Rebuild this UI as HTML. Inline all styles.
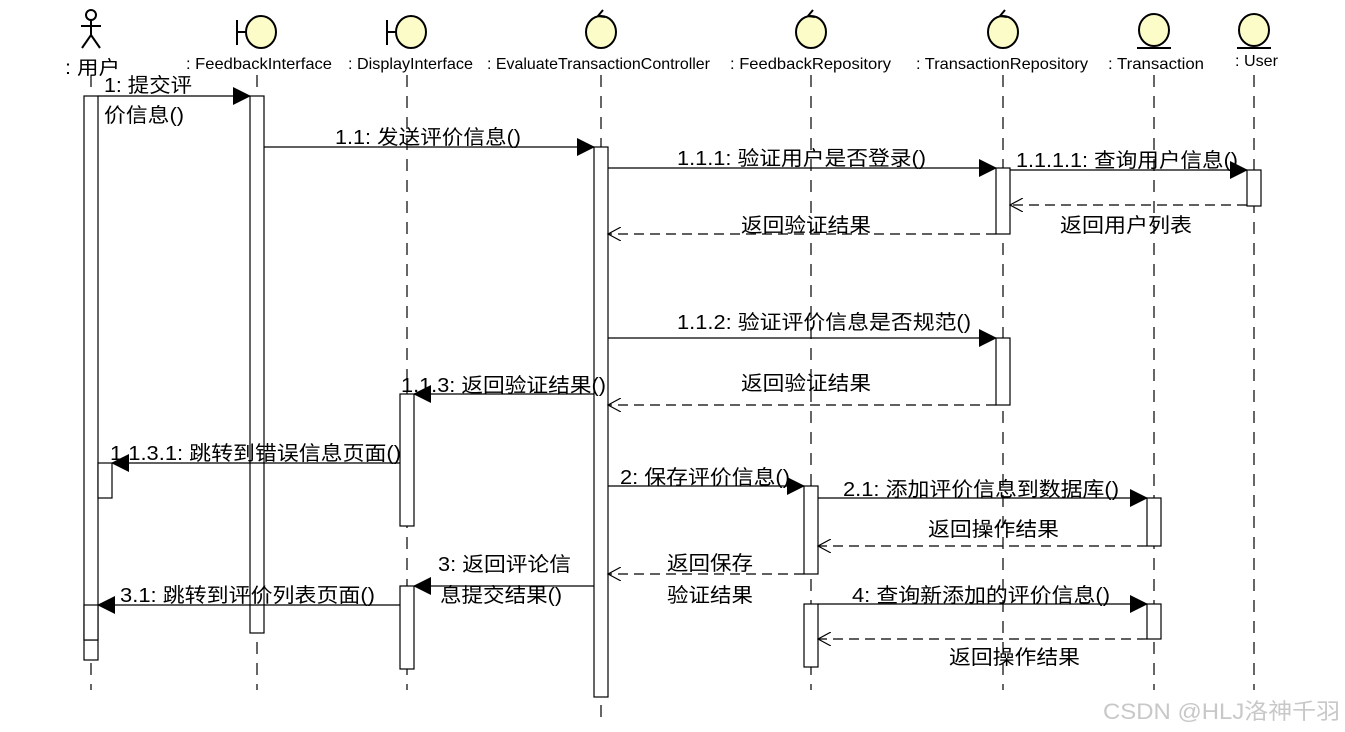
<!DOCTYPE html>
<html><head><meta charset="utf-8"><style>
html,body{margin:0;padding:0;background:#fff;}
svg{display:block;}
text{font-family:"Liberation Sans","Noto Sans CJK SC",sans-serif;fill:#000;}
.h{font-size:16px;}
.m{font-size:20px;}
</style></head><body>
<svg width="1345" height="732" viewBox="0 0 1345 732" xmlns="http://www.w3.org/2000/svg">
<defs>
<marker id="a" markerWidth="18" markerHeight="18" refX="17" refY="9" orient="auto" markerUnits="userSpaceOnUse"><path d="M0,0 L18,9 L0,18 z" fill="#000"/></marker>
<marker id="o" markerWidth="14" markerHeight="14" refX="13" refY="7" orient="auto" markerUnits="userSpaceOnUse"><path d="M0,0 L13,7 L0,14" fill="none" stroke="#000" stroke-width="1.2"/></marker>
</defs>
<g stroke="#000" stroke-width="1.2" fill="none" stroke-dasharray="12,9">
<line x1="91" y1="75" x2="91" y2="690"/>
<line x1="257" y1="75" x2="257" y2="690"/>
<line x1="407" y1="75" x2="407" y2="690"/>
<line x1="601" y1="75" x2="601" y2="717"/>
<line x1="811" y1="75" x2="811" y2="690"/>
<line x1="1003" y1="75" x2="1003" y2="690"/>
<line x1="1154" y1="75" x2="1154" y2="690"/>
<line x1="1254" y1="75" x2="1254" y2="690"/>
</g>
<g stroke="#000" stroke-width="2" fill="#fcfcc8">
<circle cx="91" cy="15" r="5" fill="none"/>
<line x1="91" y1="20" x2="91" y2="35"/><line x1="81" y1="26" x2="101" y2="26"/>
<line x1="91" y1="35" x2="82" y2="48"/><line x1="91" y1="35" x2="100" y2="48"/>
<line x1="237" y1="20" x2="237" y2="45"/><line x1="237" y1="32" x2="246" y2="32"/>
<ellipse cx="261" cy="32" rx="15" ry="16"/>
<line x1="387" y1="20" x2="387" y2="45"/><line x1="387" y1="32" x2="396" y2="32"/>
<ellipse cx="411" cy="32" rx="15" ry="16"/>
<ellipse cx="601" cy="32" rx="15" ry="16"/>
<ellipse cx="811" cy="32" rx="15" ry="16"/>
<ellipse cx="1003" cy="32" rx="15" ry="16"/>
<ellipse cx="1154" cy="30" rx="15" ry="16"/>
<line x1="1137" y1="48" x2="1171" y2="48"/>
<ellipse cx="1254" cy="30" rx="15" ry="16"/>
<line x1="1237" y1="48" x2="1271" y2="48"/>
<path d="M603,10 L598,16 L605,17" fill="none"/>
<path d="M813,10 L808,16 L815,17" fill="none"/>
<path d="M1005,10 L1000,16 L1007,17" fill="none"/>
</g>
<g lengthAdjust="spacingAndGlyphs">
<text class="h" x="65" y="74" style="font-size:19px" textLength="55" lengthAdjust="spacingAndGlyphs">: 用户</text>
<text class="h" x="186" y="69" textLength="146" lengthAdjust="spacingAndGlyphs">: FeedbackInterface</text>
<text class="h" x="348" y="69" textLength="125" lengthAdjust="spacingAndGlyphs">: DisplayInterface</text>
<text class="h" x="487" y="69" textLength="223" lengthAdjust="spacingAndGlyphs">: EvaluateTransactionController</text>
<text class="h" x="730" y="69" textLength="161" lengthAdjust="spacingAndGlyphs">: FeedbackRepository</text>
<text class="h" x="916" y="69" textLength="172" lengthAdjust="spacingAndGlyphs">: TransactionRepository</text>
<text class="h" x="1108" y="69" textLength="96" lengthAdjust="spacingAndGlyphs">: Transaction</text>
<text class="h" x="1235" y="66" textLength="43" lengthAdjust="spacingAndGlyphs">: User</text>
</g>
<g stroke="#000" stroke-width="1.2" fill="#fff">
<rect x="84" y="96" width="14" height="564"/>
<line x1="84" y1="640" x2="98" y2="640"/>
<rect x="98" y="463" width="14" height="35"/>
<rect x="84" y="605" width="14" height="35"/>
<rect x="250" y="96" width="14" height="537"/>
<rect x="400" y="394" width="14" height="132"/>
<rect x="400" y="586" width="14" height="83"/>
<rect x="594" y="147" width="14" height="550"/>
<rect x="804" y="486" width="14" height="88"/>
<rect x="804" y="604" width="14" height="63"/>
<rect x="996" y="168" width="14" height="66"/>
<rect x="996" y="338" width="14" height="67"/>
<rect x="1147" y="498" width="14" height="48"/>
<rect x="1147" y="604" width="14" height="35"/>
<rect x="1247" y="170" width="14" height="36"/>
</g>
<g stroke="#000" stroke-width="1.2" fill="none">
<line x1="98" y1="96" x2="250" y2="96" marker-end="url(#a)"/>
<line x1="264" y1="147" x2="594" y2="147" marker-end="url(#a)"/>
<line x1="608" y1="168" x2="996" y2="168" marker-end="url(#a)"/>
<line x1="1010" y1="170" x2="1247" y2="170" marker-end="url(#a)"/>
<line x1="608" y1="338" x2="996" y2="338" marker-end="url(#a)"/>
<line x1="594" y1="394" x2="414" y2="394" marker-end="url(#a)"/>
<line x1="400" y1="463" x2="112" y2="463" marker-end="url(#a)"/>
<line x1="608" y1="486" x2="804" y2="486" marker-end="url(#a)"/>
<line x1="818" y1="498" x2="1147" y2="498" marker-end="url(#a)"/>
<line x1="594" y1="586" x2="414" y2="586" marker-end="url(#a)"/>
<line x1="400" y1="605" x2="98" y2="605" marker-end="url(#a)"/>
<line x1="818" y1="604" x2="1147" y2="604" marker-end="url(#a)"/>
<g stroke-dasharray="10,6">
<line x1="1247" y1="205" x2="1010" y2="205" marker-end="url(#o)"/>
<line x1="996" y1="234" x2="608" y2="234" marker-end="url(#o)"/>
<line x1="996" y1="405" x2="608" y2="405" marker-end="url(#o)"/>
<line x1="1147" y1="546" x2="818" y2="546" marker-end="url(#o)"/>
<line x1="804" y1="574" x2="608" y2="574" marker-end="url(#o)"/>
<line x1="1147" y1="639" x2="818" y2="639" marker-end="url(#o)"/>
</g>
</g>
<g>
<text class="m" x="104" y="92" textLength="88" lengthAdjust="spacingAndGlyphs">1: 提交评</text>
<text class="m" x="104" y="122" textLength="80" lengthAdjust="spacingAndGlyphs">价信息()</text>
<text class="m" x="335" y="144" textLength="186" lengthAdjust="spacingAndGlyphs">1.1: 发送评价信息()</text>
<text class="m" x="677" y="165" textLength="249" lengthAdjust="spacingAndGlyphs">1.1.1: 验证用户是否登录()</text>
<text class="m" x="1016" y="167" textLength="222" lengthAdjust="spacingAndGlyphs">1.1.1.1: 查询用户信息()</text>
<text class="m" x="1060" y="232" textLength="132" lengthAdjust="spacingAndGlyphs">返回用户列表</text>
<text class="m" x="741" y="232" textLength="130" lengthAdjust="spacingAndGlyphs">返回验证结果</text>
<text class="m" x="677" y="329" textLength="294" lengthAdjust="spacingAndGlyphs">1.1.2: 验证评价信息是否规范()</text>
<text class="m" x="741" y="390" textLength="130" lengthAdjust="spacingAndGlyphs">返回验证结果</text>
<text class="m" x="401" y="392" textLength="205" lengthAdjust="spacingAndGlyphs">1.1.3: 返回验证结果()</text>
<text class="m" x="110" y="460" textLength="291" lengthAdjust="spacingAndGlyphs">1.1.3.1: 跳转到错误信息页面()</text>
<text class="m" x="620" y="484" textLength="170" lengthAdjust="spacingAndGlyphs">2: 保存评价信息()</text>
<text class="m" x="843" y="496" textLength="276" lengthAdjust="spacingAndGlyphs">2.1: 添加评价信息到数据库()</text>
<text class="m" x="928" y="536" textLength="131" lengthAdjust="spacingAndGlyphs">返回操作结果</text>
<text class="m" x="667" y="570" textLength="86" lengthAdjust="spacingAndGlyphs">返回保存</text>
<text class="m" x="667" y="602" textLength="86" lengthAdjust="spacingAndGlyphs">验证结果</text>
<text class="m" x="438" y="571" textLength="133" lengthAdjust="spacingAndGlyphs">3: 返回评论信</text>
<text class="m" x="440" y="602" textLength="122" lengthAdjust="spacingAndGlyphs">息提交结果()</text>
<text class="m" x="120" y="602" textLength="255" lengthAdjust="spacingAndGlyphs">3.1: 跳转到评价列表页面()</text>
<text class="m" x="852" y="602" textLength="258" lengthAdjust="spacingAndGlyphs">4: 查询新添加的评价信息()</text>
<text class="m" x="949" y="664" textLength="131" lengthAdjust="spacingAndGlyphs">返回操作结果</text>
</g>
<text x="1103" y="719" style="font-size:22px;fill:#c8c8c8" textLength="237" lengthAdjust="spacingAndGlyphs">CSDN @HLJ洛神千羽</text>
</svg>
</body></html>
